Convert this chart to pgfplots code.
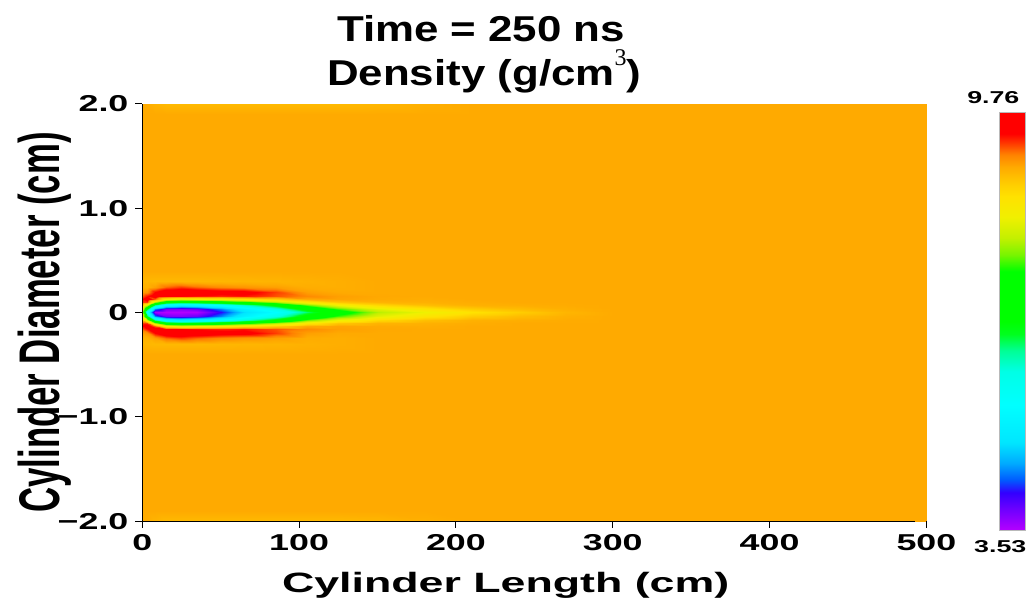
\documentclass[border=0pt]{standalone}
\usepackage{fontspec}
\setmainfont{Liberation Sans}
\newfontfamily\tickfont{Liberation Sans}[FakeStretch=1.56]
\newfontfamily\labfont{Liberation Sans}[FakeStretch=1.6]
\newfontfamily\titfont{Liberation Sans}[FakeStretch=1.22]
\newfontfamily\ylabfont{Liberation Sans}
\newfontfamily\serifont{Liberation Serif}
\usepackage{graphicx}
\usepackage{pgfplots}
\pgfplotsset{compat=1.18}
\begin{document}
\begin{tikzpicture}
\begin{axis}[
  view={0}{90},
  scale only axis, width=392.75pt, height=209pt,
  xmin=0, xmax=500, ymin=-2, ymax=2,
  clip=false,
  axis x line*=bottom, axis y line*=left, axis z line*=none,
  x axis line style={shorten >=5.5pt},
  xtick={0,100,200,300,400,500}, ytick={-2,-1,0,1,2},
  yticklabels={−2.0,−1.0,0,1.0,2.0},
  tick align=outside, major tick length=3.4pt,
  tick style={black, line width=0.5pt},
  axis line style={black, line width=0.5pt},
  ticklabel style={font=\tickfont\bfseries\fontsize{11.5}{13}\selectfont},
  /pgf/number format/assume math mode=true,
  colormap={ref}{rgb255(0pt)=(180,0,255) rgb255(5pt)=(110,0,255) rgb255(9pt)=(50,0,255)
    rgb255(12pt)=(0,90,255) rgb255(16pt)=(0,170,255) rgb255(21pt)=(0,230,255)
    rgb255(30pt)=(0,255,255) rgb255(38pt)=(0,255,230) rgb255(43pt)=(0,255,150)
    rgb255(47pt)=(0,255,30) rgb255(50pt)=(0,255,0) rgb255(62pt)=(0,255,0)
    rgb255(66pt)=(120,245,0) rgb255(70pt)=(195,240,0) rgb255(75pt)=(240,240,0)
    rgb255(80pt)=(255,225,0) rgb255(83pt)=(255,205,0) rgb255(87pt)=(255,170,0)
    rgb255(90pt)=(255,130,0) rgb255(93pt)=(255,50,0) rgb255(95pt)=(255,0,0)
    rgb255(100pt)=(255,0,0)},
  point meta min=3.53, point meta max=9.76,
  colorbar,
  colorbar style={at={(parent axis.north east)}, anchor=north west,
    xshift=28pt, yshift=-4.5pt, width=13pt, height=209pt,
    ytick=\empty, xtick=\empty, axis line style={draw=gray!55, line width=0.5pt}},
]
\addplot3[surf, shader=interp, mesh/ordering=y varies, mesh/rows=25, mesh/cols=18]
 table[row sep=\\] {x y v\\
0 -2 8.95\\ 0 -1.9 8.95\\ 0 -1 8.95\\ 0 -0.4 8.95\\ 0 -0.3 8.88\\ 0 -0.24 8.9\\ 0 -0.2 9.0\\ 0 -0.16 9.2\\ 0 -0.13 9.4\\ 0 -0.1 9.3\\ 0 -0.07 8.8\\ 0 -0.035 8.3\\ 0 0 8.0\\ 0 0.035 8.3\\ 0 0.07 8.8\\ 0 0.1 9.3\\ 0 0.13 9.4\\ 0 0.16 9.2\\ 0 0.2 9.0\\ 0 0.24 8.9\\ 0 0.3 8.88\\ 0 0.4 8.95\\ 0 1 8.95\\ 0 1.9 8.95\\ 0 2 8.95\\
3 -2 8.93\\ 3 -1.9 8.95\\ 3 -1 8.95\\ 3 -0.4 8.95\\ 3 -0.3 8.86\\ 3 -0.24 8.9\\ 3 -0.2 9.05\\ 3 -0.16 9.4\\ 3 -0.13 9.65\\ 3 -0.1 9.3\\ 3 -0.07 8.0\\ 3 -0.035 6.5\\ 3 0 5.5\\ 3 0.035 6.5\\ 3 0.07 8.0\\ 3 0.1 9.3\\ 3 0.13 9.65\\ 3 0.16 9.4\\ 3 0.2 9.05\\ 3 0.24 8.9\\ 3 0.3 8.86\\ 3 0.4 8.95\\ 3 1 8.95\\ 3 1.9 8.95\\ 3 2 8.93\\
8 -2 8.88\\ 8 -1.9 8.95\\ 8 -1 8.95\\ 8 -0.4 8.95\\ 8 -0.3 8.85\\ 8 -0.24 9.0\\ 8 -0.2 9.45\\ 8 -0.16 9.65\\ 8 -0.13 9.2\\ 8 -0.1 7.8\\ 8 -0.07 6.2\\ 8 -0.035 4.4\\ 8 0 3.6\\ 8 0.035 4.4\\ 8 0.07 6.2\\ 8 0.1 7.8\\ 8 0.13 9.2\\ 8 0.16 9.65\\ 8 0.2 9.45\\ 8 0.24 9.0\\ 8 0.3 8.85\\ 8 0.4 8.95\\ 8 1 8.95\\ 8 1.9 8.95\\ 8 2 8.88\\
15 -2 8.84\\ 15 -1.9 8.95\\ 15 -1 8.95\\ 15 -0.4 8.95\\ 15 -0.3 8.85\\ 15 -0.24 9.2\\ 15 -0.2 9.7\\ 15 -0.16 9.5\\ 15 -0.13 8.3\\ 15 -0.1 6.9\\ 15 -0.07 5.3\\ 15 -0.035 3.8\\ 15 0 3.53\\ 15 0.035 3.8\\ 15 0.07 5.3\\ 15 0.1 6.9\\ 15 0.13 8.3\\ 15 0.16 9.5\\ 15 0.2 9.7\\ 15 0.24 9.2\\ 15 0.3 8.85\\ 15 0.4 8.95\\ 15 1 8.95\\ 15 1.9 8.95\\ 15 2 8.84\\
25 -2 8.84\\ 25 -1.9 8.95\\ 25 -1 8.95\\ 25 -0.4 8.95\\ 25 -0.3 8.85\\ 25 -0.24 9.3\\ 25 -0.2 9.72\\ 25 -0.16 9.45\\ 25 -0.13 8.1\\ 25 -0.1 6.7\\ 25 -0.07 5.1\\ 25 -0.035 3.75\\ 25 0 3.53\\ 25 0.035 3.75\\ 25 0.07 5.1\\ 25 0.1 6.7\\ 25 0.13 8.1\\ 25 0.16 9.45\\ 25 0.2 9.72\\ 25 0.24 9.3\\ 25 0.3 8.85\\ 25 0.4 8.95\\ 25 1 8.95\\ 25 1.9 8.95\\ 25 2 8.84\\
35 -2 8.84\\ 35 -1.9 8.95\\ 35 -1 8.95\\ 35 -0.4 8.95\\ 35 -0.3 8.85\\ 35 -0.24 9.2\\ 35 -0.2 9.68\\ 35 -0.16 9.4\\ 35 -0.13 8.2\\ 35 -0.1 6.8\\ 35 -0.07 5.2\\ 35 -0.035 3.85\\ 35 0 3.55\\ 35 0.035 3.85\\ 35 0.07 5.2\\ 35 0.1 6.8\\ 35 0.13 8.2\\ 35 0.16 9.4\\ 35 0.2 9.68\\ 35 0.24 9.2\\ 35 0.3 8.85\\ 35 0.4 8.95\\ 35 1 8.95\\ 35 1.9 8.95\\ 35 2 8.84\\
50 -2 8.84\\ 50 -1.9 8.95\\ 50 -1 8.95\\ 50 -0.4 8.95\\ 50 -0.3 8.86\\ 50 -0.24 9.1\\ 50 -0.2 9.58\\ 50 -0.16 9.35\\ 50 -0.13 8.3\\ 50 -0.1 7.0\\ 50 -0.07 5.5\\ 50 -0.035 4.4\\ 50 0 4.1\\ 50 0.035 4.4\\ 50 0.07 5.5\\ 50 0.1 7.0\\ 50 0.13 8.3\\ 50 0.16 9.35\\ 50 0.2 9.58\\ 50 0.24 9.1\\ 50 0.3 8.86\\ 50 0.4 8.95\\ 50 1 8.95\\ 50 1.9 8.95\\ 50 2 8.84\\
65 -2 8.84\\ 65 -1.9 8.95\\ 65 -1 8.95\\ 65 -0.4 8.95\\ 65 -0.3 8.87\\ 65 -0.24 9.05\\ 65 -0.2 9.55\\ 65 -0.16 9.4\\ 65 -0.13 8.5\\ 65 -0.1 7.3\\ 65 -0.07 6.0\\ 65 -0.035 5.1\\ 65 0 4.8\\ 65 0.035 5.1\\ 65 0.07 6.0\\ 65 0.1 7.3\\ 65 0.13 8.5\\ 65 0.16 9.4\\ 65 0.2 9.55\\ 65 0.24 9.05\\ 65 0.3 8.87\\ 65 0.4 8.95\\ 65 1 8.95\\ 65 1.9 8.95\\ 65 2 8.84\\
85 -2 8.84\\ 85 -1.9 8.95\\ 85 -1 8.95\\ 85 -0.4 8.95\\ 85 -0.3 8.88\\ 85 -0.24 9.0\\ 85 -0.2 9.3\\ 85 -0.16 9.25\\ 85 -0.13 8.7\\ 85 -0.1 7.8\\ 85 -0.07 6.7\\ 85 -0.035 5.8\\ 85 0 5.4\\ 85 0.035 5.8\\ 85 0.07 6.7\\ 85 0.1 7.8\\ 85 0.13 8.7\\ 85 0.16 9.25\\ 85 0.2 9.3\\ 85 0.24 9.0\\ 85 0.3 8.88\\ 85 0.4 8.95\\ 85 1 8.95\\ 85 1.9 8.95\\ 85 2 8.84\\
105 -2 8.84\\ 105 -1.9 8.95\\ 105 -1 8.95\\ 105 -0.4 8.95\\ 105 -0.3 8.9\\ 105 -0.24 8.93\\ 105 -0.2 9.0\\ 105 -0.16 9.1\\ 105 -0.13 8.95\\ 105 -0.1 8.4\\ 105 -0.07 7.6\\ 105 -0.035 6.8\\ 105 0 6.3\\ 105 0.035 6.8\\ 105 0.07 7.6\\ 105 0.1 8.4\\ 105 0.13 8.95\\ 105 0.16 9.1\\ 105 0.2 9.0\\ 105 0.24 8.93\\ 105 0.3 8.9\\ 105 0.4 8.95\\ 105 1 8.95\\ 105 1.9 8.95\\ 105 2 8.84\\
125 -2 8.84\\ 125 -1.9 8.95\\ 125 -1 8.95\\ 125 -0.4 8.95\\ 125 -0.3 8.92\\ 125 -0.24 8.92\\ 125 -0.2 8.95\\ 125 -0.16 9.0\\ 125 -0.13 8.98\\ 125 -0.1 8.75\\ 125 -0.07 8.2\\ 125 -0.035 7.5\\ 125 0 7.1\\ 125 0.035 7.5\\ 125 0.07 8.2\\ 125 0.1 8.75\\ 125 0.13 8.98\\ 125 0.16 9.0\\ 125 0.2 8.95\\ 125 0.24 8.92\\ 125 0.3 8.92\\ 125 0.4 8.95\\ 125 1 8.95\\ 125 1.9 8.95\\ 125 2 8.84\\
150 -2 8.86\\ 150 -1.9 8.95\\ 150 -1 8.95\\ 150 -0.4 8.95\\ 150 -0.3 8.95\\ 150 -0.24 8.95\\ 150 -0.2 8.95\\ 150 -0.16 8.96\\ 150 -0.13 8.95\\ 150 -0.1 8.88\\ 150 -0.07 8.6\\ 150 -0.035 8.1\\ 150 0 7.85\\ 150 0.035 8.1\\ 150 0.07 8.6\\ 150 0.1 8.88\\ 150 0.13 8.95\\ 150 0.16 8.96\\ 150 0.2 8.95\\ 150 0.24 8.95\\ 150 0.3 8.95\\ 150 0.4 8.95\\ 150 1 8.95\\ 150 1.9 8.95\\ 150 2 8.86\\
180 -2 8.91\\ 180 -1.9 8.95\\ 180 -1 8.95\\ 180 -0.4 8.95\\ 180 -0.3 8.95\\ 180 -0.24 8.95\\ 180 -0.2 8.95\\ 180 -0.16 8.95\\ 180 -0.13 8.93\\ 180 -0.1 8.9\\ 180 -0.07 8.8\\ 180 -0.035 8.45\\ 180 0 8.2\\ 180 0.035 8.45\\ 180 0.07 8.8\\ 180 0.1 8.9\\ 180 0.13 8.93\\ 180 0.16 8.95\\ 180 0.2 8.95\\ 180 0.24 8.95\\ 180 0.3 8.95\\ 180 0.4 8.95\\ 180 1 8.95\\ 180 1.9 8.95\\ 180 2 8.91\\
210 -2 8.95\\ 210 -1.9 8.95\\ 210 -1 8.95\\ 210 -0.4 8.95\\ 210 -0.3 8.95\\ 210 -0.24 8.95\\ 210 -0.2 8.95\\ 210 -0.16 8.95\\ 210 -0.13 8.95\\ 210 -0.1 8.93\\ 210 -0.07 8.9\\ 210 -0.035 8.7\\ 210 0 8.5\\ 210 0.035 8.7\\ 210 0.07 8.9\\ 210 0.1 8.93\\ 210 0.13 8.95\\ 210 0.16 8.95\\ 210 0.2 8.95\\ 210 0.24 8.95\\ 210 0.3 8.95\\ 210 0.4 8.95\\ 210 1 8.95\\ 210 1.9 8.95\\ 210 2 8.95\\
240 -2 8.95\\ 240 -1.9 8.95\\ 240 -1 8.95\\ 240 -0.4 8.95\\ 240 -0.3 8.95\\ 240 -0.24 8.95\\ 240 -0.2 8.95\\ 240 -0.16 8.95\\ 240 -0.13 8.95\\ 240 -0.1 8.95\\ 240 -0.07 8.92\\ 240 -0.035 8.82\\ 240 0 8.7\\ 240 0.035 8.82\\ 240 0.07 8.92\\ 240 0.1 8.95\\ 240 0.13 8.95\\ 240 0.16 8.95\\ 240 0.2 8.95\\ 240 0.24 8.95\\ 240 0.3 8.95\\ 240 0.4 8.95\\ 240 1 8.95\\ 240 1.9 8.95\\ 240 2 8.95\\
270 -2 8.95\\ 270 -1.9 8.95\\ 270 -1 8.95\\ 270 -0.4 8.95\\ 270 -0.3 8.95\\ 270 -0.24 8.95\\ 270 -0.2 8.95\\ 270 -0.16 8.95\\ 270 -0.13 8.95\\ 270 -0.1 8.95\\ 270 -0.07 8.94\\ 270 -0.035 8.91\\ 270 0 8.87\\ 270 0.035 8.91\\ 270 0.07 8.94\\ 270 0.1 8.95\\ 270 0.13 8.95\\ 270 0.16 8.95\\ 270 0.2 8.95\\ 270 0.24 8.95\\ 270 0.3 8.95\\ 270 0.4 8.95\\ 270 1 8.95\\ 270 1.9 8.95\\ 270 2 8.95\\
300 -2 8.95\\ 300 -1.9 8.95\\ 300 -1 8.95\\ 300 -0.4 8.95\\ 300 -0.3 8.95\\ 300 -0.24 8.95\\ 300 -0.2 8.95\\ 300 -0.16 8.95\\ 300 -0.13 8.95\\ 300 -0.1 8.95\\ 300 -0.07 8.95\\ 300 -0.035 8.95\\ 300 0 8.95\\ 300 0.035 8.95\\ 300 0.07 8.95\\ 300 0.1 8.95\\ 300 0.13 8.95\\ 300 0.16 8.95\\ 300 0.2 8.95\\ 300 0.24 8.95\\ 300 0.3 8.95\\ 300 0.4 8.95\\ 300 1 8.95\\ 300 1.9 8.95\\ 300 2 8.95\\
500 -2 8.95\\ 500 -1.9 8.95\\ 500 -1 8.95\\ 500 -0.4 8.95\\ 500 -0.3 8.95\\ 500 -0.24 8.95\\ 500 -0.2 8.95\\ 500 -0.16 8.95\\ 500 -0.13 8.95\\ 500 -0.1 8.95\\ 500 -0.07 8.95\\ 500 -0.035 8.95\\ 500 0 8.95\\ 500 0.035 8.95\\ 500 0.07 8.95\\ 500 0.1 8.95\\ 500 0.13 8.95\\ 500 0.16 8.95\\ 500 0.2 8.95\\ 500 0.24 8.95\\ 500 0.3 8.95\\ 500 0.4 8.95\\ 500 1 8.95\\ 500 1.9 8.95\\ 500 2 8.95\\
};
\coordinate (o) at (rel axis cs:0,0,0);
\node[font=\titfont\bfseries\fontsize{18}{20}\selectfont, anchor=base] at (rel axis cs:0.432,1.149,0) {Time = 250 ns};
\node[font=\titfont\bfseries\fontsize{18}{20}\selectfont, anchor=base] at (rel axis cs:0.436,1.043,0) {Density (g/cm\raisebox{10pt}{\serifont\mdseries\fontsize{12}{12}\selectfont 3})};
\node[font=\labfont\bfseries\fontsize{14}{16}\selectfont, anchor=base] at (rel axis cs:0.4634,-0.1699,0) {Cylinder Length (cm)};
\node[rotate=90, anchor=base, inner sep=0pt] at (rel axis cs:-0.105,0.476,0) {\scalebox{1}[1.65]{\ylabfont\bfseries\fontsize{17.4}{19}\selectfont Cylinder Diameter (cm)}};
\node[font=\tickfont\bfseries\fontsize{8.6}{10}\selectfont] at (rel axis cs:1.0853,1.0144,0) {9.76};
\node[font=\tickfont\bfseries\fontsize{8.6}{10}\selectfont] at (rel axis cs:1.0942,-0.0622,0) {3.53};
\end{axis}
\path ([xshift=-71.25pt,yshift=-41pt]o) rectangle ([xshift=445.25pt,yshift=261pt]o);
\end{tikzpicture}
\end{document}
